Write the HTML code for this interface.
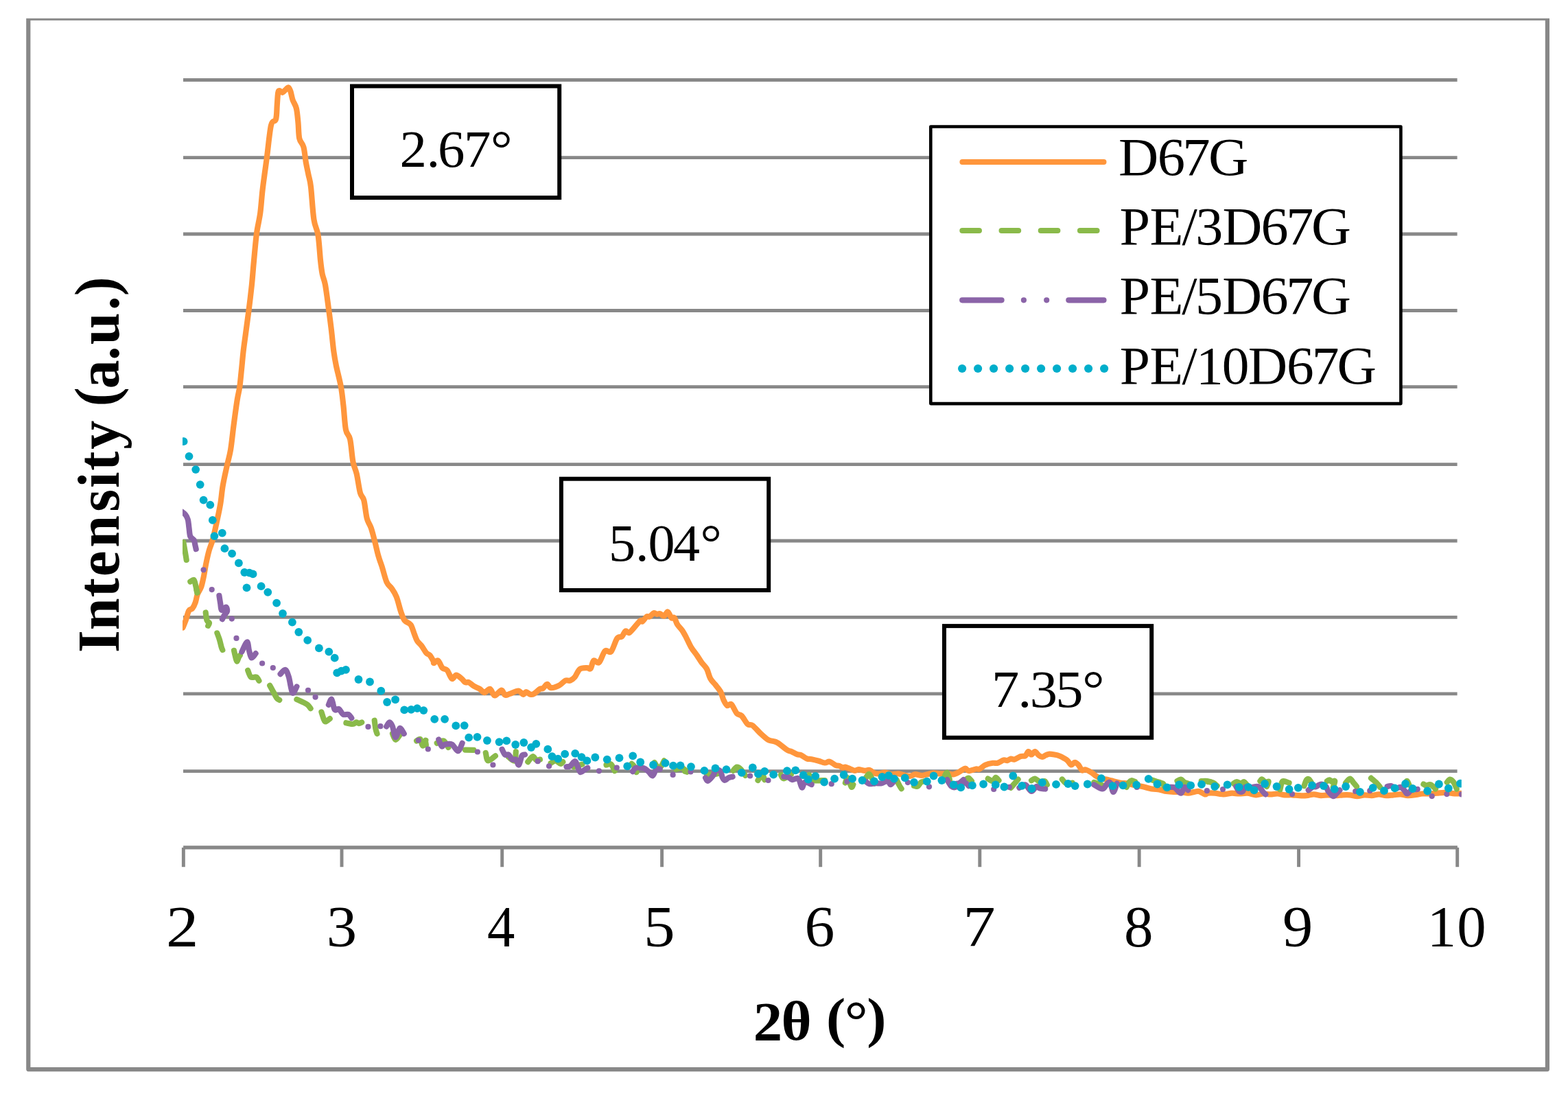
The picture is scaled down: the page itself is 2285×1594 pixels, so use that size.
<!DOCTYPE html>
<html lang="en">
<head>
<meta charset="utf-8">
<title>XRD patterns</title>
<style>
html,body{margin:0;padding:0;background:#fff;}
body{width:2285px;height:1594px;overflow:hidden;}
svg{display:block;}
text{font-family:"Liberation Serif",serif;fill:#000;}
.b{font-weight:bold;}
</style>
</head>
<body>
<svg width="2285" height="1594" viewBox="0 0 2285 1594">
<rect x="0" y="0" width="2285" height="1594" fill="#fff"/>

<defs><clipPath id="fc"><rect x="0" y="26.85" width="2285" height="1568"/></clipPath></defs>
<rect x="41.3" y="26.6" width="2213.6" height="1531.45" fill="none" stroke="#888888" stroke-width="6.2" stroke-linejoin="round" clip-path="url(#fc)"/>
<g stroke="#888888" stroke-width="4.8" fill="none">
<line x1="267.0" y1="116.5" x2="2123.6" y2="116.5"/>
<line x1="267.0" y1="229.6" x2="2123.6" y2="229.6"/>
<line x1="267.0" y1="341.0" x2="2123.6" y2="341.0"/>
<line x1="267.0" y1="452.5" x2="2123.6" y2="452.5"/>
<line x1="267.0" y1="563.7" x2="2123.6" y2="563.7"/>
<line x1="267.0" y1="676.6" x2="2123.6" y2="676.6"/>
<line x1="267.0" y1="788.0" x2="2123.6" y2="788.0"/>
<line x1="267.0" y1="899.4" x2="2123.6" y2="899.4"/>
<line x1="267.0" y1="1010.8" x2="2123.6" y2="1010.8"/>
<line x1="267.0" y1="1123.7" x2="2123.6" y2="1123.7"/>
</g>
<g fill="#888888">
<rect x="267.1" y="1232.2" width="1856.8" height="5.3"/>
<rect x="264.90" y="1234.9" width="4.9" height="28.3"/>
<rect x="495.55" y="1234.9" width="4.9" height="28.3"/>
<rect x="729.25" y="1234.9" width="4.9" height="28.3"/>
<rect x="962.15" y="1234.9" width="4.9" height="28.3"/>
<rect x="1193.25" y="1234.9" width="4.9" height="28.3"/>
<rect x="1425.35" y="1234.9" width="4.9" height="28.3"/>
<rect x="1657.70" y="1234.9" width="4.9" height="28.3"/>
<rect x="1890.10" y="1234.9" width="4.9" height="28.3"/>
<rect x="2121.25" y="1234.9" width="4.9" height="28.3"/>
</g>
<defs><clipPath id="pc"><rect x="266" y="100" width="1863.8" height="1133"/></clipPath></defs>
<g clip-path="url(#pc)" fill="none" stroke-linecap="round" stroke-linejoin="round">
<path stroke="#FF963C" stroke-width="8.2" d="M266.4,914.5C267.1,912.7 269.2,908.0 270.7,903.9C272.1,899.8 273.5,892.8 275.1,889.9C276.7,887.0 278.8,888.4 280.4,886.4C282.0,884.4 283.6,881.0 284.8,877.6C286.0,874.2 286.4,869.6 287.8,865.9C289.2,862.2 291.6,859.5 293.1,855.4C294.6,851.3 295.4,846.9 296.6,841.3C297.8,835.7 298.8,828.4 300.1,822.0C301.4,815.6 302.9,808.6 304.5,802.7C306.1,796.9 307.9,793.9 309.8,786.9C311.7,779.9 314.0,769.3 315.9,760.5C317.8,751.7 319.7,743.0 321.2,734.2C322.7,725.4 323.1,717.2 324.7,707.8C326.3,698.4 329.0,686.8 330.9,678.0C332.8,669.2 334.5,664.8 336.1,655.1C337.7,645.4 338.9,632.2 340.5,620.0C342.1,607.8 344.3,591.4 345.8,582.0C347.3,572.6 348.3,570.9 349.3,563.6C350.3,556.3 351.1,546.7 352.0,538.1C352.9,529.5 353.6,520.6 354.6,511.8C355.6,503.0 356.8,495.3 358.1,485.4C359.4,475.5 361.0,464.3 362.5,452.6C364.0,440.9 365.6,427.2 366.9,415.1C368.1,403.0 368.8,392.4 370.0,380.0C371.2,367.6 372.4,352.2 373.9,340.7C375.4,329.2 377.7,321.6 379.2,310.8C380.7,300.0 381.1,289.2 382.7,275.7C384.3,262.2 386.8,245.5 388.8,230.0C390.9,214.5 392.8,192.0 395.0,182.6C397.2,173.2 400.5,178.8 402.0,173.8C403.5,168.8 403.3,159.1 403.8,152.7C404.3,146.2 404.6,138.5 405.2,135.1C405.8,131.7 406.2,132.1 407.3,132.1C408.4,132.1 410.1,135.2 411.7,134.8C413.3,134.4 415.5,131.1 417.0,129.9C418.5,128.7 419.4,127.0 420.5,127.6C421.6,128.2 422.5,130.4 423.5,133.4C424.5,136.4 425.2,141.6 426.6,145.7C428.0,149.8 430.6,152.4 431.9,158.0C433.2,163.6 433.8,171.8 434.5,179.1C435.2,186.4 435.0,196.1 436.3,201.9C437.6,207.8 440.8,208.3 442.4,214.2C444.0,220.0 444.7,230.3 445.9,237.0C447.1,243.7 448.3,248.7 449.5,254.6C450.7,260.5 451.7,261.4 453.0,272.2C454.3,283.0 455.6,307.9 457.4,319.6C459.1,331.3 461.9,332.4 463.5,342.4C465.1,352.3 466.0,369.8 467.0,379.3C468.0,388.8 468.5,393.3 469.7,399.3C470.9,405.3 472.4,406.2 474.0,415.1C475.6,424.0 477.8,441.8 479.3,452.6C480.8,463.4 481.6,470.2 482.8,480.1C484.0,490.0 485.1,503.0 486.3,511.8C487.5,520.6 488.1,524.2 489.9,532.8C491.7,541.4 495.1,553.9 496.9,563.6C498.6,573.3 499.2,580.4 500.4,590.8C501.6,601.2 502.3,617.7 503.9,625.9C505.5,634.1 508.4,632.2 510.1,640.0C511.9,647.8 512.8,664.3 514.4,672.7C516.0,681.1 517.9,682.7 519.7,690.3C521.5,697.9 523.2,712.0 525.0,718.4C526.8,724.8 528.7,722.8 530.3,728.9C531.9,735.0 533.0,748.6 534.7,755.3C536.5,762.0 538.9,763.8 540.8,769.3C542.7,774.8 544.4,781.9 546.1,788.6C547.9,795.3 549.5,803.6 551.3,809.7C553.0,815.9 554.5,819.0 556.6,825.5C558.7,832.0 561.2,843.1 563.6,848.4C566.0,853.7 568.4,853.7 570.7,857.2C573.1,860.7 575.4,863.8 577.7,869.5C580.0,875.2 582.3,885.9 584.3,891.6C586.3,897.3 587.2,900.8 589.6,903.9C592.0,907.0 596.1,906.9 598.4,910.1C600.7,913.3 602.0,919.2 603.6,923.2C605.2,927.2 606.2,930.9 608.0,933.8C609.8,936.7 612.0,937.9 614.2,940.8C616.4,943.7 619.2,948.9 621.2,951.3C623.2,953.6 624.8,952.8 626.5,954.9C628.2,957.0 630.7,961.7 631.7,963.6C632.7,965.5 631.2,966.3 632.3,966.1C633.4,965.9 636.3,961.4 638.4,962.6C640.5,963.8 642.4,970.8 644.6,973.1C646.8,975.4 649.3,974.0 651.6,976.6C653.9,979.2 656.4,987.7 658.6,988.9C660.8,990.1 662.4,983.6 664.8,983.6C667.1,983.6 670.5,987.1 672.7,988.9C674.9,990.7 676.2,993.3 678.0,994.2C679.8,995.1 681.2,993.3 683.2,994.2C685.2,995.1 687.6,997.9 690.3,999.5C692.9,1001.1 696.5,1002.2 699.1,1003.8C701.7,1005.4 703.6,1009.1 706.1,1009.1C708.6,1009.1 711.5,1003.1 714.0,1003.8C716.5,1004.5 718.2,1013.2 721.0,1013.5C723.8,1013.8 728.2,1005.8 730.7,1005.6C733.2,1005.5 733.9,1011.7 735.9,1012.6C737.9,1013.5 739.8,1011.9 743.0,1010.9C746.2,1009.9 752.1,1006.4 755.3,1006.5C758.5,1006.6 760.4,1011.5 762.3,1011.8C764.2,1012.1 765.0,1008.2 766.7,1008.2C768.5,1008.2 770.9,1011.3 772.8,1011.8C774.7,1012.2 775.8,1012.2 778.1,1010.9C780.5,1009.6 784.7,1005.1 786.9,1003.8C789.1,1002.5 789.5,1004.2 791.3,1003.0C793.0,1001.8 795.5,996.9 797.4,996.8C799.3,996.6 799.8,1001.8 802.7,1002.1C805.6,1002.4 811.5,1000.4 815.0,998.6C818.5,996.9 821.2,992.8 823.8,991.6C826.4,990.4 828.5,992.5 830.8,991.6C833.1,990.7 835.4,989.1 837.8,986.3C840.1,983.5 842.0,977.1 844.9,974.9C847.8,972.7 852.8,973.2 855.4,973.1C858.0,973.0 859.1,975.8 860.7,974.0C862.3,972.2 863.1,964.1 865.1,962.6C867.1,961.1 870.2,967.6 873.0,965.2C875.8,962.9 878.8,951.1 881.7,948.5C884.6,945.9 887.6,952.5 890.5,949.4C893.4,946.3 896.7,933.8 899.3,930.1C901.9,926.4 904.2,929.2 906.3,927.4C908.3,925.6 909.7,920.5 911.6,919.5C913.5,918.5 914.3,923.8 917.8,921.3C921.3,918.8 929.6,907.2 932.7,904.6C935.8,902.0 934.6,906.5 936.2,905.5C937.8,904.5 940.6,899.6 942.4,898.4C944.1,897.2 945.0,899.3 946.7,898.4C948.5,897.5 951.1,893.8 952.9,893.2C954.7,892.6 955.8,894.8 957.3,894.9C958.8,895.0 960.0,893.6 961.7,894.1C963.5,894.6 965.9,898.1 967.8,897.6C969.7,897.1 971.3,891.0 973.1,891.4C974.9,891.8 976.8,898.7 978.4,900.2C980.0,901.7 981.3,898.6 982.8,900.2C984.2,901.8 985.2,906.8 987.1,909.9C989.0,913.0 992.1,915.5 994.2,918.6C996.4,921.8 997.9,924.8 1000.0,928.8C1002.1,932.8 1004.4,938.4 1007.0,942.8C1009.6,947.2 1013.2,951.3 1015.8,955.1C1018.4,958.9 1020.4,962.5 1022.8,965.7C1025.2,968.9 1027.9,970.7 1029.9,974.5C1032.0,978.3 1033.0,984.7 1035.1,988.5C1037.1,992.3 1039.7,994.1 1042.2,997.3C1044.7,1000.5 1048.0,1004.0 1050.1,1007.8C1052.1,1011.6 1052.9,1016.7 1054.5,1020.1C1056.1,1023.5 1057.8,1027.0 1059.7,1028.0C1061.6,1029.0 1063.6,1024.4 1065.9,1026.3C1068.2,1028.2 1071.3,1036.7 1073.8,1039.5C1076.3,1042.3 1078.2,1040.4 1080.8,1043.0C1083.4,1045.6 1087.0,1053.0 1089.6,1055.3C1092.2,1057.6 1093.4,1054.7 1096.6,1057.0C1099.8,1059.3 1105.1,1065.8 1108.9,1069.3C1112.7,1072.8 1116.6,1076.3 1119.5,1078.1C1122.4,1079.9 1124.2,1079.2 1126.5,1079.9C1128.8,1080.6 1130.0,1080.3 1133.5,1082.5C1137.0,1084.7 1144.4,1091.0 1147.6,1093.0C1150.8,1095.0 1150.5,1093.8 1152.8,1094.8C1155.1,1095.8 1159.2,1098.3 1161.6,1099.2C1163.9,1100.1 1164.6,1099.1 1166.9,1100.1C1169.2,1101.1 1173.1,1104.3 1175.7,1105.3C1178.3,1106.3 1179.8,1105.6 1182.7,1106.2C1185.6,1106.8 1190.0,1107.9 1193.2,1108.8C1196.4,1109.7 1199.4,1111.3 1202.0,1111.5C1204.6,1111.7 1206.4,1109.1 1209.0,1109.7C1211.6,1110.3 1215.5,1114.0 1217.8,1115.0C1220.1,1116.0 1221.3,1115.3 1223.1,1115.9C1224.9,1116.5 1226.9,1118.2 1228.4,1118.5C1229.9,1118.8 1230.2,1117.3 1231.9,1117.6C1233.7,1117.9 1236.6,1119.4 1238.9,1120.3C1241.2,1121.2 1243.9,1122.8 1245.9,1122.9C1248.0,1123.0 1248.9,1121.1 1251.2,1121.1C1253.5,1121.1 1257.4,1122.8 1260.0,1122.9C1262.6,1123.1 1264.7,1121.4 1267.0,1122.0C1269.3,1122.6 1271.7,1125.5 1274.0,1126.4C1276.3,1127.3 1278.4,1127.5 1281.1,1127.3C1283.8,1127.1 1287.0,1125.3 1289.9,1125.5C1292.8,1125.7 1295.4,1127.9 1298.6,1128.2C1301.8,1128.5 1305.7,1127.0 1309.2,1127.3C1312.7,1127.6 1316.8,1129.3 1319.7,1129.9C1322.6,1130.5 1324.4,1131.1 1326.7,1130.8C1329.0,1130.5 1331.2,1128.3 1333.8,1128.2C1336.4,1128.1 1339.7,1129.9 1342.6,1129.9C1345.5,1129.9 1348.4,1128.8 1351.3,1128.2C1354.2,1127.6 1357.2,1126.6 1360.1,1126.4C1363.0,1126.2 1365.7,1127.2 1368.9,1127.3C1372.1,1127.4 1377.6,1127.4 1379.4,1127.3C1381.2,1127.2 1378.4,1126.5 1380.0,1126.7C1381.6,1126.9 1385.9,1128.7 1388.8,1128.4C1391.7,1128.1 1394.7,1126.4 1397.6,1124.9C1400.5,1123.5 1404.1,1120.0 1406.4,1119.7C1408.7,1119.4 1409.0,1123.1 1411.6,1123.2C1414.2,1123.3 1419.6,1121.0 1422.2,1120.5C1424.8,1120.0 1425.1,1121.5 1427.4,1120.5C1429.7,1119.5 1433.0,1115.9 1436.2,1114.4C1439.4,1113.0 1443.9,1112.2 1446.8,1111.8C1449.7,1111.4 1451.2,1112.5 1453.8,1111.8C1456.4,1111.1 1460.3,1108.0 1462.6,1107.4C1464.9,1106.8 1466.0,1108.5 1467.8,1108.2C1469.5,1107.9 1471.3,1105.9 1473.1,1105.6C1474.9,1105.3 1476.1,1107.1 1478.4,1106.5C1480.8,1105.9 1484.6,1103.0 1487.2,1102.1C1489.8,1101.2 1492.3,1102.4 1494.2,1101.2C1496.1,1100.0 1497.1,1095.4 1498.6,1095.1C1500.1,1094.8 1501.4,1099.5 1503.0,1099.5C1504.6,1099.5 1506.5,1095.0 1508.2,1095.1C1510.0,1095.2 1511.7,1099.0 1513.5,1100.3C1515.3,1101.6 1517.0,1103.0 1518.8,1103.0C1520.5,1103.0 1522.2,1101.0 1524.0,1100.3C1525.8,1099.6 1527.0,1098.7 1529.3,1098.6C1531.6,1098.5 1535.8,1099.4 1538.1,1099.8C1540.4,1100.2 1541.4,1100.4 1543.4,1101.2C1545.5,1102.0 1548.4,1103.5 1550.4,1104.7C1552.5,1105.9 1554.0,1106.6 1555.7,1108.2C1557.5,1109.8 1559.2,1114.0 1560.9,1114.4C1562.7,1114.9 1564.4,1110.9 1566.2,1110.9C1568.0,1110.9 1569.7,1112.5 1571.5,1114.4C1573.3,1116.3 1575.0,1121.1 1576.8,1122.3C1578.5,1123.5 1579.7,1120.8 1582.0,1121.4C1584.3,1122.0 1588.2,1124.2 1590.8,1125.8C1593.4,1127.4 1595.4,1129.6 1597.8,1131.1C1600.2,1132.6 1602.6,1133.9 1604.9,1134.6C1607.2,1135.3 1609.0,1134.9 1611.9,1135.5C1614.8,1136.1 1618.9,1137.2 1622.4,1138.1C1625.9,1139.0 1629.5,1140.1 1633.0,1140.7C1636.5,1141.3 1640.0,1141.0 1643.5,1141.6C1647.0,1142.2 1650.5,1143.6 1654.0,1144.3C1657.5,1145.0 1660.5,1145.1 1664.6,1146.0C1668.7,1146.9 1674.5,1148.8 1678.6,1149.5C1682.7,1150.2 1685.7,1149.8 1689.2,1150.4C1692.7,1151.0 1696.2,1152.4 1699.7,1153.0C1703.2,1153.6 1706.8,1153.8 1710.3,1153.9C1713.8,1154.1 1717.3,1153.6 1720.8,1153.9C1724.3,1154.2 1728.1,1155.7 1731.3,1155.7C1734.5,1155.7 1737.5,1154.4 1740.1,1153.9C1742.7,1153.5 1744.5,1152.4 1747.1,1153.0C1749.7,1153.6 1753.8,1157.0 1755.9,1157.4C1758.1,1157.9 1757.6,1156.0 1760.0,1155.7C1762.4,1155.4 1766.7,1155.4 1770.5,1155.7C1774.3,1156.0 1778.7,1157.4 1782.8,1157.4C1786.9,1157.4 1791.3,1155.9 1795.1,1155.7C1798.9,1155.5 1801.9,1156.5 1805.7,1156.5C1809.5,1156.5 1813.9,1155.4 1818.0,1155.7C1822.1,1156.0 1826.5,1158.2 1830.3,1158.3C1834.1,1158.4 1837.3,1156.7 1840.8,1156.5C1844.3,1156.3 1847.8,1157.4 1851.3,1157.4C1854.8,1157.4 1858.4,1156.3 1861.9,1156.5C1865.4,1156.7 1868.9,1158.0 1872.4,1158.3C1875.9,1158.6 1879.5,1158.1 1883.0,1158.3C1886.5,1158.5 1890.0,1159.0 1893.5,1159.2C1897.0,1159.4 1900.5,1159.5 1904.0,1159.2C1907.5,1158.9 1911.1,1157.4 1914.6,1157.4C1918.1,1157.4 1921.6,1159.1 1925.1,1159.2C1928.6,1159.3 1932.2,1158.3 1935.7,1158.3C1939.2,1158.3 1942.7,1159.2 1946.2,1159.2C1949.7,1159.2 1953.3,1158.5 1956.8,1158.3C1960.3,1158.1 1963.8,1158.0 1967.3,1158.3C1970.8,1158.6 1974.3,1160.1 1977.8,1160.1C1981.3,1160.1 1984.9,1158.4 1988.4,1158.3C1991.9,1158.2 1995.4,1159.3 1998.9,1159.2C2002.4,1159.1 2006.0,1157.4 2009.5,1157.4C2013.0,1157.4 2016.5,1159.1 2020.0,1159.2C2023.5,1159.3 2027.0,1158.6 2030.5,1158.3C2034.0,1158.0 2037.6,1157.2 2041.1,1157.4C2044.6,1157.6 2048.1,1159.1 2051.6,1159.2C2055.1,1159.3 2058.7,1158.8 2062.2,1158.3C2065.7,1157.8 2069.2,1156.8 2072.7,1156.5C2076.2,1156.2 2079.7,1156.6 2083.2,1156.5C2086.7,1156.4 2090.3,1156.0 2093.8,1155.7C2097.3,1155.4 2100.8,1154.8 2104.3,1154.8C2107.8,1154.8 2112.0,1155.4 2114.9,1155.7C2117.8,1156.0 2119.0,1156.5 2121.9,1156.5C2124.8,1156.5 2130.7,1155.8 2132.4,1155.7"/>
<g stroke="#8ABA4A" stroke-width="8.2">
<path d="M267.3,790.0C267.6,791.5 268.4,796.4 268.9,799.2C269.4,802.1 269.8,804.3 270.3,807.1C270.8,809.9 271.5,814.4 271.7,815.9"/>
<path d="M277.3,847.5C278.2,847.1 281.3,843.9 282.6,844.9C283.9,845.9 284.4,850.5 285.2,853.6C286.0,856.7 286.9,861.7 287.3,863.3"/>
<path d="M286.6,860.0 L287.4,863.5"/>
<path d="M299.7,892.5C300.0,894.4 300.6,901.4 301.5,903.9C302.4,906.4 304.7,906.1 305.0,907.4C305.3,908.7 303.5,911.1 303.2,911.8"/>
<path d="M316.4,922.4C317.0,924.0 318.9,928.6 319.9,932.0C320.9,935.4 321.9,940.1 322.6,942.6C323.3,945.1 324.0,946.3 324.3,947.0"/>
<path d="M341.0,947.8C341.3,949.1 342.1,953.1 342.8,955.7C343.5,958.3 344.2,963.3 345.1,963.6C346.0,963.9 347.2,959.0 348.0,957.5C348.8,956.0 349.5,955.3 349.8,954.9"/>
<path d="M361.2,976.8C361.9,978.4 363.6,984.9 365.6,986.5C367.7,988.1 371.5,985.6 373.5,986.5C375.5,987.4 376.8,990.9 377.4,991.8"/>
<path d="M393.2,998.8C394.2,1000.5 397.3,1006.2 399.0,1009.3C400.7,1012.4 402.0,1015.4 403.4,1017.2C404.8,1019.0 406.6,1019.5 407.2,1019.9"/>
<path d="M432.4,1019.0C434.0,1019.7 439.4,1022.1 442.0,1023.4C444.6,1024.7 446.4,1025.4 448.2,1026.9C450.0,1028.4 451.9,1031.3 452.6,1032.2"/>
<path d="M468.4,1037.4C469.0,1039.2 470.9,1045.7 471.9,1048.0C472.9,1050.3 473.0,1051.7 474.5,1051.5C476.0,1051.3 479.7,1047.8 480.7,1047.1"/>
<path d="M504.4,1053.2C506.0,1053.5 511.5,1055.1 514.0,1055.0C516.5,1054.9 517.8,1052.6 519.3,1052.4C520.8,1052.2 521.5,1054.1 522.8,1054.1C524.1,1054.1 526.5,1052.7 527.2,1052.4"/>
<path d="M545.7,1049.7C546.0,1051.8 546.8,1058.8 547.4,1062.0C548.0,1065.2 549.1,1067.8 549.5,1069.0"/>
<path d="M572.0,1069.0C572.7,1070.5 574.6,1077.5 576.4,1077.8C578.2,1078.1 581.6,1072.0 582.6,1070.8"/>
<path d="M607.1,1079.6C608.0,1079.2 610.9,1075.8 612.4,1077.0C613.9,1078.2 614.6,1086.3 615.9,1086.6C617.2,1086.9 619.6,1080.0 620.3,1078.7"/>
<path d="M620.0,1080.3 L620.9,1085.5"/>
<path d="M636.7,1082.9C638.3,1082.3 643.6,1078.4 646.4,1079.4C649.2,1080.4 652.2,1087.4 653.4,1089.0"/>
<path d="M678.0,1092.6 L690.3,1092.9"/>
<path d="M707.8,1097.0C708.4,1098.9 708.9,1107.7 711.3,1108.4C713.6,1109.1 720.1,1102.5 721.9,1101.3"/>
<path d="M741.2,1103.1C742.7,1104.0 748.2,1109.7 750.0,1108.4C751.8,1107.1 751.5,1097.4 751.8,1095.2"/>
<path d="M769.3,1110.1C770.5,1108.8 774.2,1102.6 776.3,1102.2C778.3,1101.8 779.8,1106.8 781.6,1107.5C783.4,1108.2 786.0,1106.8 786.9,1106.6"/>
<path d="M802.7,1111.9C803.9,1111.3 807.4,1108.2 809.7,1108.4C812.1,1108.6 815.0,1112.5 816.8,1112.8C818.6,1113.1 819.7,1110.5 820.3,1110.1"/>
<path d="M836.1,1117.2 L848.4,1113.6"/>
<path d="M883.5,1114.5C884.7,1114.3 888.5,1112.1 890.5,1113.6C892.5,1115.1 894.9,1121.7 895.8,1123.3"/>
<path d="M920.4,1112.8C921.0,1113.4 922.7,1114.2 923.9,1116.3C925.1,1118.3 926.8,1123.6 927.4,1125.1"/>
<path d="M953.8,1111.0C955.0,1112.5 958.5,1120.2 960.8,1119.8C963.1,1119.4 966.6,1110.3 967.8,1108.4"/>
<path d="M985.4,1120.7C986.9,1120.4 991.6,1118.3 994.2,1118.9C996.8,1119.5 1000.0,1123.3 1001.2,1124.2"/>
<path d="M998.2,1123.8 L1000.9,1124.7"/>
<path d="M1029.9,1128.2C1030.8,1128.3 1032.5,1129.2 1035.1,1129.0C1037.7,1128.8 1043.9,1127.6 1045.7,1127.3"/>
<path d="M1068.5,1122.9C1069.4,1122.0 1072.0,1118.0 1073.8,1117.6C1075.6,1117.2 1077.0,1118.2 1079.1,1120.3C1081.1,1122.3 1084.9,1128.3 1086.1,1129.9"/>
<path d="M1104.5,1137.0C1105.5,1135.7 1109.1,1129.2 1110.7,1129.0C1112.3,1128.8 1113.6,1134.9 1114.2,1136.1"/>
<path d="M1137.9,1129.0C1138.6,1129.9 1139.8,1134.4 1142.3,1134.3C1144.8,1134.2 1151.0,1129.2 1152.8,1128.2"/>
<path d="M1179.2,1129.0C1180.4,1130.3 1182.4,1135.7 1186.2,1137.0C1190.0,1138.3 1199.4,1137.0 1202.0,1137.0"/>
<path d="M1231.9,1140.5C1232.5,1139.3 1233.9,1132.4 1235.4,1133.4C1236.9,1134.4 1239.4,1145.0 1240.7,1146.6C1242.0,1148.2 1242.9,1143.7 1243.3,1143.1"/>
<path d="M1261.7,1133.4C1262.6,1132.5 1265.0,1126.9 1267.0,1128.2C1269.0,1129.5 1272.8,1139.1 1274.0,1141.3"/>
<path d="M1306.5,1136.1C1307.2,1137.6 1309.7,1142.7 1310.9,1144.9C1312.1,1147.1 1313.1,1148.5 1313.6,1149.2"/>
<path d="M1332.0,1144.9C1332.9,1145.0 1335.5,1146.6 1337.3,1145.7C1339.1,1144.8 1340.5,1140.9 1342.6,1139.6C1344.6,1138.3 1348.4,1138.1 1349.6,1137.8"/>
<path d="M1374.2,1137.8C1375.1,1135.9 1377.7,1126.1 1379.4,1126.4C1381.2,1126.7 1383.8,1137.4 1384.7,1139.6"/>
<path d="M1380.0,1125.8 L1383.5,1134.6"/>
<path d="M1408.1,1135.5C1408.7,1135.2 1410.3,1133.3 1411.6,1133.7C1412.9,1134.1 1415.3,1137.4 1416.0,1138.1"/>
<path d="M1439.7,1134.6C1440.9,1135.2 1444.9,1138.4 1446.8,1138.1C1448.7,1137.8 1449.6,1132.9 1451.1,1132.8C1452.5,1132.7 1454.8,1136.5 1455.5,1137.2"/>
<path d="M1473.1,1147.8C1474.0,1146.8 1476.7,1143.6 1478.4,1141.6C1480.2,1139.5 1482.7,1136.5 1483.6,1135.5"/>
<path d="M1503.0,1137.2C1503.9,1136.8 1506.2,1134.3 1508.2,1134.6C1510.2,1134.9 1513.0,1138.4 1515.3,1139.0C1517.6,1139.6 1520.5,1137.4 1522.3,1138.1C1524.0,1138.8 1525.2,1142.5 1525.8,1143.4"/>
<path d="M1547.8,1135.5C1548.8,1136.5 1551.4,1140.7 1553.9,1141.6C1556.4,1142.5 1561.2,1140.8 1562.7,1140.7"/>
<path d="M1594.3,1139.9C1595.2,1140.2 1597.5,1140.9 1599.6,1141.6C1601.6,1142.3 1605.4,1143.8 1606.6,1144.3"/>
<path d="M1641.7,1146.9C1642.3,1145.7 1644.1,1141.5 1645.3,1139.9C1646.5,1138.3 1647.3,1137.4 1648.8,1137.2C1650.2,1137.0 1653.1,1138.7 1654.0,1139.0"/>
<path d="M1678.6,1136.3C1679.5,1136.6 1681.3,1137.2 1683.9,1138.1C1686.5,1139.0 1692.4,1140.4 1694.4,1141.6C1696.5,1142.8 1695.9,1144.5 1696.2,1145.1"/>
<path d="M1715.5,1138.1C1716.4,1137.7 1719.0,1135.2 1720.8,1135.5C1722.6,1135.8 1724.3,1138.9 1726.1,1139.9C1727.8,1140.9 1730.4,1141.3 1731.3,1141.6"/>
<path d="M1750.7,1138.1C1752.2,1138.1 1756.5,1137.7 1759.4,1138.1C1762.3,1138.5 1765.9,1139.5 1768.2,1140.7C1770.5,1141.9 1772.6,1144.4 1773.5,1145.1"/>
<path d="M1760.0,1139.0C1761.2,1139.3 1764.8,1139.7 1767.0,1140.7C1769.2,1141.7 1772.2,1144.4 1773.2,1145.1"/>
<path d="M1797.8,1141.6C1798.5,1141.2 1800.5,1139.0 1802.2,1139.0C1804.0,1139.0 1806.5,1141.6 1808.3,1141.6C1810.0,1141.6 1811.4,1138.8 1812.7,1139.0C1814.0,1139.2 1815.6,1141.9 1816.2,1142.5"/>
<path d="M1836.4,1138.1C1836.9,1137.7 1837.8,1135.2 1839.1,1135.5C1840.4,1135.8 1842.7,1139.3 1844.3,1139.9C1845.9,1140.5 1848.4,1138.0 1848.7,1139.0C1849.0,1140.0 1846.5,1144.8 1846.1,1146.0"/>
<path d="M1865.4,1150.4C1865.8,1148.7 1867.1,1142.0 1868.0,1139.9C1868.9,1137.9 1868.9,1138.0 1870.7,1138.1C1872.5,1138.2 1877.3,1140.3 1878.6,1140.7"/>
<path d="M1900.5,1145.1C1901.1,1143.6 1902.8,1137.9 1904.0,1136.3C1905.2,1134.7 1906.1,1134.3 1907.6,1135.5C1909.1,1136.7 1911.9,1142.1 1912.8,1143.4"/>
<path d="M1933.9,1138.1C1934.5,1137.8 1936.2,1136.1 1937.4,1136.3C1938.6,1136.5 1939.6,1138.7 1940.9,1139.0C1942.2,1139.3 1945.0,1136.8 1945.3,1138.1C1945.6,1139.4 1943.1,1145.4 1942.7,1146.9"/>
<path d="M1961.1,1140.7C1962.1,1139.7 1965.4,1134.6 1967.3,1134.6C1969.2,1134.6 1971.0,1138.8 1972.6,1140.7C1974.2,1142.6 1976.3,1145.1 1977.0,1146.0"/>
<path d="M1998.0,1133.7C1999.3,1134.9 2003.7,1138.5 2005.9,1140.7C2008.1,1142.9 2010.3,1145.9 2011.2,1146.9"/>
<path d="M2044.6,1148.6C2045.5,1146.8 2048.4,1139.0 2049.9,1138.1C2051.4,1137.2 2052.8,1142.5 2053.4,1143.4"/>
<path d="M2074.4,1142.5C2075.0,1142.8 2076.2,1144.1 2078.0,1144.3C2079.8,1144.5 2082.7,1142.5 2085.0,1143.4C2087.3,1144.3 2090.8,1148.5 2092.0,1149.5"/>
<path d="M2108.7,1139.9C2109.4,1139.2 2111.5,1135.5 2113.1,1135.5C2114.7,1135.5 2116.8,1137.6 2118.4,1139.9C2120.0,1142.2 2122.1,1147.9 2122.8,1149.5"/>
</g>
<g stroke="#8B64A8" stroke-width="8.2">
<path d="M265.0,745.6C265.9,746.3 268.8,748.1 270.3,750.0C271.8,751.9 272.9,753.8 273.8,757.0C274.7,760.2 274.9,765.2 275.5,769.3C276.1,773.4 276.1,778.7 277.3,781.6C278.5,784.5 281.4,784.9 282.6,786.9C283.8,788.9 283.8,791.7 284.3,793.9C284.8,796.1 285.5,799.1 285.7,800.1"/>
<path d="M319.4,867.9C319.7,869.8 320.6,875.8 321.2,879.3C321.8,882.8 321.6,888.1 322.9,889.0C324.2,889.9 327.8,884.3 329.2,884.6C330.6,884.9 331.5,888.6 331.0,890.7C330.5,892.8 327.6,895.3 326.4,897.2C325.2,899.1 324.4,901.4 324.0,902.2"/>
<path d="M352.4,949.6C353.7,947.2 358.2,935.8 360.0,935.5C361.8,935.2 361.9,944.0 363.0,947.8C364.1,951.6 364.9,957.7 366.5,958.4C368.1,959.1 371.6,953.2 372.6,952.2"/>
<path d="M408.6,982.1C409.8,981.1 413.6,975.2 415.7,975.9C417.8,976.6 419.1,980.9 420.9,986.5C422.6,992.1 424.3,1007.0 426.2,1009.3C428.1,1011.6 431.4,1002.0 432.4,1000.5"/>
<path d="M478.9,1026.9C479.6,1025.6 481.8,1017.8 483.3,1019.0C484.8,1020.2 485.9,1031.6 487.7,1033.9C489.4,1036.2 491.8,1031.8 493.8,1033.0C495.9,1034.2 497.6,1039.6 500.0,1040.9C502.4,1042.2 505.8,1040.0 507.9,1040.9C509.9,1041.8 511.6,1045.3 512.3,1046.2"/>
<path d="M563.2,1058.5C563.9,1057.5 566.1,1052.4 567.6,1052.4C569.1,1052.4 570.5,1054.8 572.0,1058.5C573.5,1062.2 574.6,1073.9 576.4,1074.3C578.2,1074.7 580.5,1062.0 582.6,1061.1C584.7,1060.2 587.7,1067.7 588.7,1069.0"/>
<path d="M639.3,1077.6C640.0,1079.2 642.2,1086.1 643.7,1087.3C645.2,1088.5 645.6,1085.1 648.1,1084.7C650.6,1084.3 655.4,1083.1 658.6,1084.7C661.8,1086.3 664.9,1094.6 667.4,1094.3C669.9,1094.0 672.6,1084.8 673.6,1082.9"/>
<path d="M731.6,1091.7C732.3,1093.0 734.3,1098.3 735.9,1099.6C737.5,1100.9 739.4,1098.4 741.2,1099.6C743.0,1100.8 744.7,1105.4 746.5,1106.6C748.3,1107.8 750.2,1105.3 751.8,1106.6C753.4,1107.9 754.6,1115.4 756.1,1114.5C757.6,1113.6 759.0,1103.8 760.5,1101.3C762.0,1098.8 764.2,1099.9 764.9,1099.6"/>
<path d="M825.5,1117.2C826.4,1117.0 828.8,1117.6 830.8,1116.3C832.8,1115.0 836.0,1109.3 837.8,1109.2C839.5,1109.1 840.0,1112.8 841.3,1115.4C842.6,1118.1 843.9,1124.1 845.7,1125.1C847.5,1126.1 850.1,1122.5 851.9,1121.5C853.7,1120.5 855.6,1119.3 856.3,1118.9"/>
<path d="M922.2,1124.2C922.9,1123.3 923.9,1119.7 926.5,1118.9C929.1,1118.1 934.9,1118.4 938.0,1119.3C941.1,1120.2 942.8,1122.4 945.0,1124.2C947.2,1126.0 949.2,1130.9 951.1,1130.3C953.0,1129.7 954.6,1122.3 956.4,1120.7C958.2,1119.1 960.8,1120.7 961.7,1120.7"/>
<path d="M1028.1,1133.4C1028.7,1134.1 1029.8,1138.2 1031.6,1137.8C1033.3,1137.4 1036.5,1133.4 1038.6,1130.8C1040.6,1128.2 1042.0,1123.2 1043.9,1122.0C1045.8,1120.8 1048.6,1122.0 1050.1,1123.8C1051.6,1125.6 1051.7,1130.4 1052.7,1132.6C1053.7,1134.8 1054.7,1136.9 1056.2,1137.0C1057.7,1137.1 1059.6,1134.3 1061.5,1133.4C1063.4,1132.5 1066.6,1132.0 1067.6,1131.7"/>
<path d="M1142.3,1131.7C1143.5,1131.8 1147.2,1131.9 1149.3,1132.6C1151.3,1133.3 1152.2,1135.8 1154.6,1136.1C1156.9,1136.4 1161.1,1132.4 1163.4,1134.3C1165.7,1136.2 1167.0,1146.6 1168.6,1147.5C1170.2,1148.4 1170.7,1140.3 1173.0,1139.6C1175.3,1138.9 1181.1,1142.5 1182.7,1143.1"/>
<path d="M1261.7,1138.7C1262.6,1139.3 1264.7,1141.8 1267.0,1142.2C1269.3,1142.6 1272.9,1141.5 1275.8,1141.3C1278.7,1141.1 1281.7,1141.9 1284.6,1141.3C1287.5,1140.7 1291.2,1137.5 1293.4,1137.8C1295.6,1138.1 1296.3,1142.9 1297.8,1143.1C1299.3,1143.2 1301.5,1139.4 1302.2,1138.7"/>
<path d="M1380.3,1136.1C1381.3,1137.7 1384.3,1144.0 1386.5,1145.7C1388.7,1147.5 1391.2,1147.6 1393.5,1146.6C1395.8,1145.6 1398.2,1141.3 1400.0,1139.6C1401.8,1137.8 1403.3,1136.7 1404.0,1136.1"/>
<path d="M1387.0,1143.4C1388.5,1143.1 1393.2,1142.2 1395.8,1141.6C1398.4,1141.0 1400.8,1139.9 1402.8,1139.9C1404.8,1139.9 1406.6,1140.7 1408.1,1141.6C1409.6,1142.5 1411.0,1144.5 1411.6,1145.1"/>
<path d="M1485.4,1147.8C1486.9,1147.1 1491.3,1142.5 1494.2,1143.4C1497.1,1144.3 1500.4,1152.6 1503.0,1153.0C1505.6,1153.4 1508.0,1146.7 1510.0,1146.0C1512.0,1145.3 1513.1,1148.0 1515.3,1148.6C1517.5,1149.2 1521.9,1149.3 1523.2,1149.5"/>
<path d="M1594.3,1143.4C1596.3,1144.4 1603.4,1149.8 1606.6,1149.5C1609.8,1149.2 1611.7,1143.1 1613.6,1141.6C1615.5,1140.1 1616.5,1138.7 1618.0,1140.7C1619.5,1142.8 1620.8,1153.8 1622.4,1153.9C1624.0,1154.1 1626.8,1143.6 1627.7,1141.6"/>
<path d="M1705.0,1146.9C1706.2,1147.1 1709.4,1146.3 1712.0,1147.8C1714.6,1149.3 1718.5,1155.8 1720.8,1155.7C1723.1,1155.6 1724.3,1147.6 1726.1,1146.9C1727.8,1146.2 1730.4,1150.6 1731.3,1151.3"/>
<path d="M1801.3,1146.0C1802.0,1147.2 1804.1,1151.8 1805.7,1153.0C1807.3,1154.2 1809.4,1154.0 1810.9,1153.0C1812.4,1152.0 1813.0,1147.8 1814.5,1146.9C1816.0,1146.0 1817.1,1148.0 1819.7,1147.8C1822.3,1147.6 1827.7,1146.2 1830.3,1146.0C1832.9,1145.8 1833.9,1145.7 1835.5,1146.9C1837.1,1148.1 1838.4,1151.2 1839.9,1153.0C1841.4,1154.8 1843.6,1156.7 1844.3,1157.4"/>
<path d="M1906.7,1151.3C1907.7,1150.6 1910.9,1147.8 1912.8,1146.9C1914.7,1146.0 1916.0,1146.7 1918.1,1146.0C1920.1,1145.3 1922.8,1142.5 1925.1,1142.5C1927.4,1142.5 1930.4,1144.2 1932.2,1146.0C1934.0,1147.8 1934.0,1150.7 1935.7,1153.0C1937.5,1155.3 1940.7,1159.6 1942.7,1160.1C1944.8,1160.5 1946.4,1157.2 1948.0,1155.7C1949.6,1154.2 1951.7,1152.0 1952.4,1151.3"/>
<path d="M2021.7,1146.0C2022.6,1145.8 2025.0,1144.7 2027.0,1145.1C2029.0,1145.5 2031.7,1148.3 2034.0,1148.6C2036.3,1148.9 2039.0,1146.5 2041.1,1146.9C2043.1,1147.4 2044.7,1149.7 2046.3,1151.3C2047.9,1152.9 2048.9,1156.5 2050.7,1156.5C2052.5,1156.5 2054.4,1152.4 2056.9,1151.3C2059.4,1150.2 2064.2,1150.2 2065.7,1150.0"/>
</g>
<g fill="#8B64A8" stroke="none">
<circle cx="296.6" cy="830.3" r="4.1"/>
<circle cx="308.7" cy="859.1" r="4.1"/>
<circle cx="337.8" cy="901.6" r="4.1"/>
<circle cx="344.5" cy="929.9" r="4.1"/>
<circle cx="382.1" cy="966.5" r="4.1"/>
<circle cx="397.8" cy="973.0" r="4.1"/>
<circle cx="449.0" cy="1005.8" r="4.1"/>
<circle cx="459.6" cy="1015.6" r="4.1"/>
<circle cx="536.5" cy="1058.9" r="4.1"/>
<circle cx="554.4" cy="1058.2" r="4.1"/>
<circle cx="609.8" cy="1078.7" r="4.1"/>
<circle cx="623.8" cy="1091.5" r="4.1"/>
<circle cx="695.9" cy="1095.5" r="4.1"/>
<circle cx="718.4" cy="1114.5" r="4.1"/>
<circle cx="783.7" cy="1109.2" r="4.1"/>
<circle cx="800.1" cy="1116.3" r="4.1"/>
<circle cx="873.0" cy="1123.3" r="4.1"/>
<circle cx="898.8" cy="1118.6" r="4.1"/>
<circle cx="980.6" cy="1128.9" r="4.1"/>
<circle cx="1006.5" cy="1124.5" r="4.1"/>
<circle cx="1093.1" cy="1130.5" r="4.1"/>
<circle cx="1119.5" cy="1137.0" r="4.1"/>
<circle cx="1211.7" cy="1142.2" r="4.1"/>
<circle cx="1234.5" cy="1138.7" r="4.1"/>
<circle cx="1322.9" cy="1140.1" r="4.1"/>
<circle cx="1354.0" cy="1146.3" r="4.1"/>
<circle cx="1448.2" cy="1150.0" r="4.1"/>
<circle cx="1470.8" cy="1146.9" r="4.1"/>
<circle cx="1656.7" cy="1146.9" r="4.1"/>
<circle cx="1758.9" cy="1152.2" r="4.1"/>
<circle cx="1782.0" cy="1150.0" r="4.1"/>
<circle cx="1883.0" cy="1157.1" r="4.1"/>
<circle cx="1975.2" cy="1153.0" r="4.1"/>
<circle cx="1996.3" cy="1152.2" r="4.1"/>
<circle cx="2086.7" cy="1160.1" r="4.1"/>
<circle cx="2108.4" cy="1157.1" r="4.1"/>
<circle cx="2129.8" cy="1157.4" r="4.1"/>
</g>
<g fill="#00AECB" stroke="none">
<circle cx="267.6" cy="643.2" r="5.9"/>
<circle cx="275.5" cy="664.8" r="5.9"/>
<circle cx="285.2" cy="684.1" r="5.9"/>
<circle cx="291.7" cy="706.1" r="5.9"/>
<circle cx="296.6" cy="728.6" r="5.9"/>
<circle cx="306.3" cy="735.6" r="5.9"/>
<circle cx="309.8" cy="757.9" r="5.9"/>
<circle cx="323.8" cy="776.7" r="5.9"/>
<circle cx="312.4" cy="781.1" r="5.9"/>
<circle cx="327.4" cy="799.2" r="5.9"/>
<circle cx="338.1" cy="806.6" r="5.9"/>
<circle cx="347.9" cy="820.3" r="5.9"/>
<circle cx="356.3" cy="834.0" r="5.9"/>
<circle cx="363.4" cy="834.7" r="5.9"/>
<circle cx="368.6" cy="836.4" r="5.9"/>
<circle cx="359.5" cy="856.3" r="5.9"/>
<circle cx="380.6" cy="854.2" r="5.9"/>
<circle cx="390.3" cy="862.8" r="5.9"/>
<circle cx="403.1" cy="878.6" r="5.9"/>
<circle cx="412.0" cy="894.0" r="5.9"/>
<circle cx="425.9" cy="906.6" r="5.9"/>
<circle cx="435.3" cy="921.0" r="5.9"/>
<circle cx="448.2" cy="932.9" r="5.9"/>
<circle cx="464.9" cy="944.3" r="5.9"/>
<circle cx="479.3" cy="949.6" r="5.9"/>
<circle cx="487.7" cy="958.7" r="5.9"/>
<circle cx="491.2" cy="980.3" r="5.9"/>
<circle cx="497.4" cy="977.7" r="5.9"/>
<circle cx="504.0" cy="975.9" r="5.9"/>
<circle cx="522.5" cy="990.0" r="5.9"/>
<circle cx="539.0" cy="993.5" r="5.9"/>
<circle cx="555.3" cy="1006.7" r="5.9"/>
<circle cx="564.1" cy="1023.0" r="5.9"/>
<circle cx="576.1" cy="1019.3" r="5.9"/>
<circle cx="589.2" cy="1034.4" r="5.9"/>
<circle cx="599.2" cy="1033.9" r="5.9"/>
<circle cx="608.0" cy="1032.2" r="5.9"/>
<circle cx="617.3" cy="1035.1" r="5.9"/>
<circle cx="633.2" cy="1047.8" r="5.9"/>
<circle cx="648.1" cy="1047.8" r="5.9"/>
<circle cx="664.3" cy="1057.4" r="5.9"/>
<circle cx="676.7" cy="1057.1" r="5.9"/>
<circle cx="683.2" cy="1074.6" r="5.9"/>
<circle cx="695.5" cy="1073.8" r="5.9"/>
<circle cx="709.9" cy="1079.0" r="5.9"/>
<circle cx="727.5" cy="1081.1" r="5.9"/>
<circle cx="738.2" cy="1079.4" r="5.9"/>
<circle cx="751.2" cy="1085.0" r="5.9"/>
<circle cx="763.3" cy="1082.0" r="5.9"/>
<circle cx="774.1" cy="1089.0" r="5.9"/>
<circle cx="781.3" cy="1083.8" r="5.9"/>
<circle cx="798.3" cy="1091.7" r="5.9"/>
<circle cx="804.5" cy="1102.2" r="5.9"/>
<circle cx="813.2" cy="1105.7" r="5.9"/>
<circle cx="823.2" cy="1098.7" r="5.9"/>
<circle cx="838.2" cy="1097.8" r="5.9"/>
<circle cx="847.5" cy="1103.1" r="5.9"/>
<circle cx="855.4" cy="1108.4" r="5.9"/>
<circle cx="867.3" cy="1103.5" r="5.9"/>
<circle cx="884.7" cy="1106.6" r="5.9"/>
<circle cx="902.5" cy="1104.3" r="5.9"/>
<circle cx="922.2" cy="1101.3" r="5.9"/>
<circle cx="914.2" cy="1116.3" r="5.9"/>
<circle cx="933.2" cy="1110.5" r="5.9"/>
<circle cx="952.0" cy="1114.5" r="5.9"/>
<circle cx="969.6" cy="1111.9" r="5.9"/>
<circle cx="981.0" cy="1115.7" r="5.9"/>
<circle cx="991.5" cy="1115.4" r="5.9"/>
<circle cx="1007.0" cy="1117.1" r="5.9"/>
<circle cx="1026.4" cy="1122.9" r="5.9"/>
<circle cx="1042.5" cy="1119.4" r="5.9"/>
<circle cx="1058.5" cy="1121.1" r="5.9"/>
<circle cx="1080.8" cy="1125.9" r="5.9"/>
<circle cx="1096.8" cy="1118.5" r="5.9"/>
<circle cx="1104.9" cy="1127.6" r="5.9"/>
<circle cx="1114.2" cy="1123.8" r="5.9"/>
<circle cx="1127.2" cy="1128.7" r="5.9"/>
<circle cx="1147.0" cy="1123.2" r="5.9"/>
<circle cx="1159.3" cy="1122.4" r="5.9"/>
<circle cx="1170.8" cy="1129.4" r="5.9"/>
<circle cx="1177.8" cy="1135.7" r="5.9"/>
<circle cx="1188.3" cy="1130.8" r="5.9"/>
<circle cx="1201.1" cy="1139.6" r="5.9"/>
<circle cx="1216.1" cy="1134.7" r="5.9"/>
<circle cx="1229.6" cy="1129.0" r="5.9"/>
<circle cx="1242.1" cy="1134.7" r="5.9"/>
<circle cx="1256.5" cy="1137.0" r="5.9"/>
<circle cx="1274.0" cy="1138.4" r="5.9"/>
<circle cx="1285.5" cy="1132.0" r="5.9"/>
<circle cx="1295.1" cy="1129.9" r="5.9"/>
<circle cx="1303.0" cy="1134.7" r="5.9"/>
<circle cx="1318.8" cy="1133.4" r="5.9"/>
<circle cx="1332.0" cy="1139.9" r="5.9"/>
<circle cx="1350.8" cy="1138.7" r="5.9"/>
<circle cx="1360.6" cy="1130.5" r="5.9"/>
<circle cx="1372.4" cy="1137.0" r="5.9"/>
<circle cx="1389.7" cy="1143.4" r="5.9"/>
<circle cx="1400.2" cy="1147.4" r="5.9"/>
<circle cx="1416.9" cy="1144.3" r="5.9"/>
<circle cx="1433.1" cy="1142.5" r="5.9"/>
<circle cx="1450.8" cy="1143.4" r="5.9"/>
<circle cx="1463.4" cy="1146.5" r="5.9"/>
<circle cx="1476.3" cy="1130.5" r="5.9"/>
<circle cx="1489.3" cy="1144.8" r="5.9"/>
<circle cx="1503.5" cy="1149.0" r="5.9"/>
<circle cx="1518.8" cy="1140.2" r="5.9"/>
<circle cx="1539.0" cy="1142.8" r="5.9"/>
<circle cx="1556.5" cy="1142.0" r="5.9"/>
<circle cx="1566.7" cy="1145.1" r="5.9"/>
<circle cx="1584.8" cy="1142.5" r="5.9"/>
<circle cx="1604.9" cy="1134.2" r="5.9"/>
<circle cx="1621.5" cy="1145.1" r="5.9"/>
<circle cx="1636.5" cy="1144.3" r="5.9"/>
<circle cx="1656.2" cy="1143.7" r="5.9"/>
<circle cx="1673.7" cy="1134.9" r="5.9"/>
<circle cx="1686.5" cy="1142.5" r="5.9"/>
<circle cx="1700.6" cy="1147.4" r="5.9"/>
<circle cx="1718.2" cy="1143.4" r="5.9"/>
<circle cx="1735.2" cy="1144.3" r="5.9"/>
<circle cx="1751.0" cy="1142.8" r="5.9"/>
<circle cx="1770.2" cy="1146.0" r="5.9"/>
<circle cx="1788.6" cy="1143.4" r="5.9"/>
<circle cx="1805.7" cy="1146.9" r="5.9"/>
<circle cx="1819.2" cy="1146.9" r="5.9"/>
<circle cx="1827.6" cy="1151.3" r="5.9"/>
<circle cx="1843.1" cy="1142.0" r="5.9"/>
<circle cx="1860.5" cy="1146.0" r="5.9"/>
<circle cx="1878.6" cy="1150.0" r="5.9"/>
<circle cx="1891.8" cy="1147.8" r="5.9"/>
<circle cx="1912.1" cy="1144.3" r="5.9"/>
<circle cx="1929.0" cy="1145.1" r="5.9"/>
<circle cx="1944.8" cy="1149.9" r="5.9"/>
<circle cx="1961.1" cy="1146.0" r="5.9"/>
<circle cx="1981.9" cy="1153.9" r="5.9"/>
<circle cx="2000.7" cy="1147.8" r="5.9"/>
<circle cx="2017.0" cy="1152.2" r="5.9"/>
<circle cx="2032.6" cy="1148.3" r="5.9"/>
<circle cx="2048.1" cy="1142.0" r="5.9"/>
<circle cx="2058.6" cy="1149.0" r="5.9"/>
<circle cx="2080.2" cy="1152.5" r="5.9"/>
<circle cx="2096.9" cy="1142.5" r="5.9"/>
<circle cx="2110.8" cy="1148.6" r="5.9"/>
<circle cx="2128.0" cy="1141.6" r="5.9"/>
</g>
</g>
<rect x="513.0" y="125.5" width="302.20000000000005" height="162.5" fill="#fff" stroke="#000" stroke-width="6"/>
<rect x="817.9" y="697.7" width="302.30000000000007" height="162.29999999999995" fill="#fff" stroke="#000" stroke-width="6"/>
<rect x="1376.0" y="912.1" width="302.20000000000005" height="162.69999999999993" fill="#fff" stroke="#000" stroke-width="6"/>
<text id="a1" transform="translate(0,243.2) scale(1.0242,1)" font-size="77" x="568.82 606.72 622.85 660.06 698.18" y="0">2.67°</text>
<text id="a2" transform="translate(0,817.3) scale(1.0152,1)" font-size="77" x="873.76 912.10 930.40 966.35 1005.31" y="0">5.04°</text>
<text id="a3" transform="translate(0,1029.6) scale(1.0460,1)" font-size="77" x="1381.39 1418.01 1434.82 1470.56 1507.93" y="0">7.35°</text>
<rect x="1356.3" y="184.5" width="685.1" height="403.6" fill="#fff" stroke="#000" stroke-width="4.6" stroke-linejoin="round"/>
<g fill="none" stroke-linecap="round">
<line x1="1402.4" y1="235.9" x2="1608.5" y2="235.9" stroke="#FF963C" stroke-width="8"/>
<line x1="1402.4" y1="336.0" x2="1608.5" y2="336.0" stroke="#8ABA4A" stroke-width="8.2" stroke-dasharray="24.5 32.7"/>
<line x1="1402.2" y1="437.3" x2="1608.5" y2="437.3" stroke="#8B64A8" stroke-width="8.2" stroke-dasharray="57.4 32.3 0 33.3 0 32.1 51.2 100"/>
</g>
<g fill="#00AECB">
<circle cx="1402.1" cy="537.0" r="6.1"/>
<circle cx="1425.1" cy="537.0" r="6.1"/>
<circle cx="1448.1" cy="537.0" r="6.1"/>
<circle cx="1471.1" cy="537.0" r="6.1"/>
<circle cx="1494.1" cy="537.0" r="6.1"/>
<circle cx="1517.1" cy="537.0" r="6.1"/>
<circle cx="1540.1" cy="537.0" r="6.1"/>
<circle cx="1563.1" cy="537.0" r="6.1"/>
<circle cx="1586.1" cy="537.0" r="6.1"/>
<circle cx="1609.1" cy="537.0" r="6.1"/>
</g>
<text id="l1" transform="translate(0,255.3) scale(1.0437,1)" font-size="77.3" x="1561.74 1616.10 1651.06 1687.32" y="0">D67G</text>
<text id="l2" transform="translate(0,356.3) scale(1.0360,1)" font-size="77.3" x="1574.91 1617.29 1662.60 1681.62 1719.51 1773.73 1809.15 1844.67" y="0">PE/3D67G</text>
<text id="l3" transform="translate(0,457.4) scale(1.0367,1)" font-size="77.3" x="1573.76 1616.11 1661.40 1680.29 1718.25 1772.44 1807.83 1843.32" y="0">PE/5D67G</text>
<text id="l4" transform="translate(0,558.5) scale(1.0278,1)" font-size="77.3" x="1587.57 1630.29 1675.87 1695.88 1732.71 1769.66 1824.25 1859.95 1895.82" y="0">PE/10D67G</text>
<text id="t0" transform="translate(0,1379.3) scale(1.1152,1)" font-size="85" x="217.12" y="0">2</text>
<text id="t1" transform="translate(0,1379.3) scale(1.0452,1)" font-size="85" x="455.17" y="0">3</text>
<text id="t2" transform="translate(0,1379.3) scale(0.9491,1)" font-size="85" x="748.11" y="0">4</text>
<text id="t3" transform="translate(0,1379.3) scale(1.0747,1)" font-size="85" x="872.85" y="0">5</text>
<text id="t4" transform="translate(0,1379.3) scale(1.0326,1)" font-size="85" x="1135.60" y="0">6</text>
<text id="t5" transform="translate(0,1379.3) scale(1.1147,1)" font-size="85" x="1258.76" y="0">7</text>
<text id="t6" transform="translate(0,1379.3) scale(0.9993,1)" font-size="85" x="1639.22" y="0">8</text>
<text id="t7" transform="translate(0,1379.3) scale(1.0421,1)" font-size="85" x="1793.61" y="0">9</text>
<text id="t8" transform="translate(0,1379.3) scale(0.9977,1)" font-size="85" x="2084.65 2128.13" y="0">10</text>
<text id="xt" transform="translate(0,1515.6) scale(1.0530,1)" font-size="80.5" x="1042.51 1081.30 1123.32 1143.30 1168.90 1199.70" y="0 -1 0 -6 -1.5 -6" class="b">2θ (°)</text>
<text id="yt" transform="translate(173.4,947.4) rotate(-90) scale(0.9683,1)" font-size="87" x="-3.61 30.14 79.66 110.98 154.54 208.22 244.09 270.11 302.24 345.74 366.83 393.31 436.01 459.66 511.35 533.04" y="0 0 0 0 0 0 0 0 0 0 -4.7 0 0 0 0 -4.7" class="b">Intensity (a.u.)</text>
</svg>
</body>
</html>
